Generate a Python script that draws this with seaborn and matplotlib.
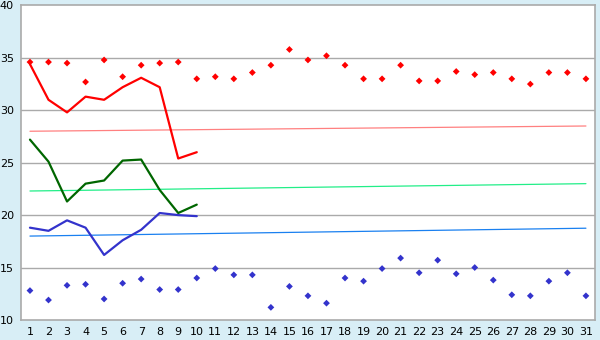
import matplotlib
matplotlib.use("Agg")
import matplotlib.pyplot as plt
import seaborn as sns
import pandas as pd

days = list(range(1, 32))
max_pts = [34.6, 34.6, 34.5, 32.7, 34.8, 33.2, 34.3, 34.5, 34.6, 33.0,
           33.2, 33.0, 33.6, 34.3, 35.8, 34.8, 35.2, 34.3, 33.0, 33.0,
           34.3, 32.8, 32.8, 33.7, 33.4, 33.6, 33.0, 32.5, 33.6, 33.6, 33.0]
min_pts = [12.8, 11.9, 13.3, 13.4, 12.0, 13.5, 13.9, 12.9, 12.9, 14.0,
           14.9, 14.3, 14.3, 11.2, 13.2, 12.3, 11.6, 14.0, 13.7, 14.9,
           15.9, 14.5, 15.7, 14.4, 15.0, 13.8, 12.4, 12.3, 13.7, 14.5, 12.3]

line_days = list(range(1, 11))
max_line = [34.4, 31.0, 29.8, 31.3, 31.0, 32.2, 33.1, 32.2, 25.4, 26.0]
mean_line = [27.2, 25.1, 21.3, 23.0, 23.3, 25.2, 25.3, 22.4, 20.2, 21.0]
min_line = [18.8, 18.5, 19.5, 18.8, 16.2, 17.6, 18.6, 20.2, 20.0, 19.9]

norm_days = [1, 31]
norm_max = [28.0, 28.5]
norm_mean = [22.3, 23.0]
norm_min = [18.0, 18.75]

sns.set_style("white")
plt.rcParams['font.family'] = ['DejaVu Sans']

fig = plt.figure(figsize=(6, 3.4), dpi=100, facecolor='#D8EEF6')
ax = fig.add_axes([0.0345, 0.059, 0.9575, 0.925])
ax.set_facecolor('white')

for y in [15, 20, 25, 30, 35]:
    ax.axhline(y, color='#AAAAAA', lw=1.0, zorder=0)

sns.lineplot(x=norm_days, y=norm_max, ax=ax, color='#FF8080', lw=0.9, zorder=1)
sns.lineplot(x=norm_days, y=norm_mean, ax=ax, color='#22EE88', lw=0.9, zorder=1)
sns.lineplot(x=norm_days, y=norm_min, ax=ax, color='#1A80F0', lw=0.9, zorder=1)

sns.lineplot(x=line_days, y=max_line, ax=ax, color='#FF0000', lw=1.6, zorder=3)
sns.lineplot(x=line_days, y=mean_line, ax=ax, color='#006600', lw=1.6, zorder=3)
sns.lineplot(x=line_days, y=min_line, ax=ax, color='#3333CC', lw=1.6, zorder=3)

sns.scatterplot(x=days, y=max_pts, ax=ax, color='#FF0000', marker='D', s=12,
                edgecolor='none', zorder=4)
sns.scatterplot(x=days, y=min_pts, ax=ax, color='#3333CC', marker='D', s=12,
                edgecolor='none', zorder=4)

ax.set_xlim(0.5, 31.5)
ax.set_ylim(10, 40)
ax.set_xticks(days)
ax.set_xticklabels([str(d) for d in days])
ax.set_yticks([10, 15, 20, 25, 30, 35, 40])
ax.tick_params(axis='x', labelsize=8, colors='black', length=4, width=1,
               pad=1, direction='out')
ax.tick_params(axis='y', labelsize=8, colors='black', length=4, width=1,
               pad=1, direction='out')
for s in ax.spines.values():
    s.set_color('#AAAAAA')
    s.set_linewidth(1.2)
ax.set_xlabel('')
ax.set_ylabel('')

fig.savefig('out.png', dpi=100, facecolor=fig.get_facecolor())
